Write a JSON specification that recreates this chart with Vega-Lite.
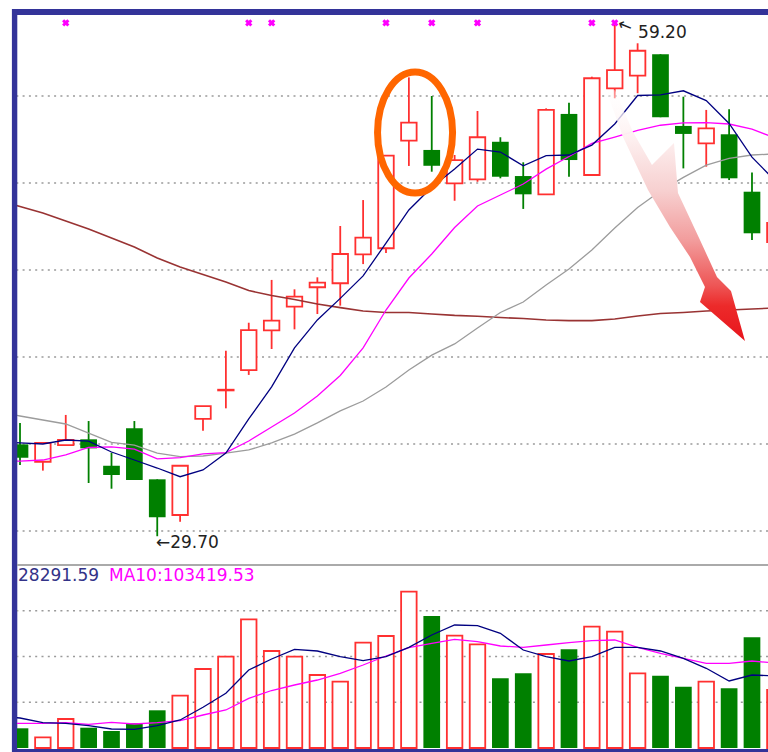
{
  "$schema": "https://vega.github.io/schema/vega-lite/v6.json",
  "width": 751,
  "height": 738,
  "autosize": "none",
  "padding": {"left": 17, "top": 14, "right": 0, "bottom": 0},
  "background": "white",
  "config": {"view": {"stroke": null}, "font": "DejaVu Sans", "scale": {"continuousPadding": 0}},
  "datasets": {
    "candles": [
      {"i":0,"o":34.98,"h":36.21,"l":33.79,"c":34.21,"v":21530},
      {"i":1,"o":33.98,"h":35.10,"l":33.47,"c":35.07,"v":11694},
      {"i":2,"o":34.93,"h":36.67,"l":34.89,"c":35.23,"v":31694},
      {"i":3,"o":35.27,"h":36.32,"l":32.76,"c":34.75,"v":22186},
      {"i":4,"o":33.75,"h":34.50,"l":32.43,"c":33.22,"v":18579},
      {"i":5,"o":35.90,"h":36.32,"l":32.93,"c":32.93,"v":26995},
      {"i":6,"o":32.97,"h":32.97,"l":29.70,"c":30.79,"v":41202},
      {"i":7,"o":30.92,"h":33.75,"l":30.53,"c":33.75,"v":57159},
      {"i":8,"o":36.44,"h":37.18,"l":35.76,"c":37.18,"v":86339},
      {"i":9,"o":38.08,"h":40.36,"l":37.05,"c":38.12,"v":99782},
      {"i":10,"o":39.25,"h":41.97,"l":38.97,"c":41.55,"v":140656},
      {"i":11,"o":41.53,"h":44.43,"l":40.46,"c":42.09,"v":106011},
      {"i":12,"o":42.89,"h":43.89,"l":41.59,"c":43.47,"v":99782},
      {"i":13,"o":44.01,"h":44.58,"l":42.47,"c":44.27,"v":79782},
      {"i":14,"o":44.24,"h":47.53,"l":42.95,"c":45.92,"v":72459},
      {"i":15,"o":45.90,"h":49.02,"l":45.34,"c":46.86,"v":115082},
      {"i":16,"o":46.25,"h":51.57,"l":45.98,"c":51.57,"v":122405},
      {"i":17,"o":52.43,"h":56.07,"l":50.98,"c":53.47,"v":170820},
      {"i":18,"o":51.90,"h":55.00,"l":50.65,"c":50.99,"v":144263},
      {"i":19,"o":49.98,"h":51.61,"l":48.98,"c":51.32,"v":122733},
      {"i":20,"o":50.21,"h":54.14,"l":50.07,"c":52.63,"v":113334},
      {"i":21,"o":52.37,"h":52.63,"l":50.27,"c":50.36,"v":76175},
      {"i":22,"o":50.40,"h":51.19,"l":48.51,"c":49.35,"v":81640},
      {"i":23,"o":49.35,"h":54.29,"l":49.35,"c":54.20,"v":102733},
      {"i":24,"o":53.97,"h":54.61,"l":50.36,"c":51.32,"v":107869},
      {"i":25,"o":50.46,"h":56.11,"l":50.46,"c":56.02,"v":132569},
      {"i":26,"o":55.44,"h":59.20,"l":54.87,"c":56.49,"v":127104},
      {"i":27,"o":56.17,"h":58.03,"l":55.16,"c":57.60,"v":81640},
      {"i":28,"o":57.40,"h":57.40,"l":53.78,"c":53.78,"v":79017},
      {"i":29,"o":53.28,"h":54.96,"l":50.84,"c":52.82,"v":66995},
      {"i":30,"o":52.28,"h":54.20,"l":50.94,"c":53.14,"v":72459},
      {"i":31,"o":52.80,"h":54.24,"l":50.17,"c":50.27,"v":65246},
      {"i":32,"o":49.50,"h":50.61,"l":46.72,"c":47.11,"v":120984},
      {"i":33,"o":46.61,"h":48.16,"l":46.15,"c":47.70,"v":63388}
    ],
    "lines": [
      {"i":-1,"ma5":35.11,"ma10":33.97,"ma30":36.84,"ma60":49.02,"vma5":34972,"vma10":26995},
      {"i":0,"ma5":35.07,"ma10":34.02,"ma30":36.61,"ma60":48.65,"vma5":32787,"vma10":26995},
      {"i":1,"ma5":35.00,"ma10":34.08,"ma30":36.38,"ma60":48.28,"vma5":27650,"vma10":26995},
      {"i":2,"ma5":35.23,"ma10":34.37,"ma30":36.15,"ma60":47.82,"vma5":26995,"vma10":27650},
      {"i":3,"ma5":35.17,"ma10":34.80,"ma30":35.63,"ma60":47.36,"vma5":24372,"vma10":25902},
      {"i":4,"ma5":34.54,"ma10":34.83,"ma30":35.09,"ma60":46.84,"vma5":20765,"vma10":28088},
      {"i":5,"ma5":34.08,"ma10":34.71,"ma30":34.94,"ma60":46.32,"vma5":20437,"vma10":26230},
      {"i":6,"ma5":33.62,"ma10":34.14,"ma30":34.48,"ma60":45.69,"vma5":24372,"vma10":27650},
      {"i":7,"ma5":33.12,"ma10":34.22,"ma30":34.27,"ma60":45.17,"vma5":30601,"vma10":29836},
      {"i":8,"ma5":33.51,"ma10":34.43,"ma30":34.31,"ma60":44.74,"vma5":44481,"vma10":36066},
      {"i":9,"ma5":34.48,"ma10":34.50,"ma30":34.47,"ma60":44.31,"vma5":59782,"vma10":41530},
      {"i":10,"ma5":36.44,"ma10":35.17,"ma30":34.66,"ma60":43.82,"vma5":85246,"vma10":54317},
      {"i":11,"ma5":38.28,"ma10":35.98,"ma30":35.06,"ma60":43.53,"vma5":97268,"vma10":62842},
      {"i":12,"ma5":40.52,"ma10":36.78,"ma30":35.57,"ma60":43.30,"vma5":107869,"vma10":68853},
      {"i":13,"ma5":42.13,"ma10":37.76,"ma30":36.21,"ma60":43.05,"vma5":106011,"vma10":74317},
      {"i":14,"ma5":43.37,"ma10":38.94,"ma30":36.90,"ma60":42.84,"vma5":99782,"vma10":81640},
      {"i":15,"ma5":44.66,"ma10":40.52,"ma30":37.47,"ma60":42.64,"vma5":95410,"vma10":90711},
      {"i":16,"ma5":46.55,"ma10":42.70,"ma30":38.28,"ma60":42.56,"vma5":99782,"vma10":100547},
      {"i":17,"ma5":48.45,"ma10":44.54,"ma30":39.25,"ma60":42.56,"vma5":110055,"vma10":109618},
      {"i":18,"ma5":49.75,"ma10":45.92,"ma30":40.11,"ma60":42.47,"vma5":123498,"vma10":114427},
      {"i":19,"ma5":50.80,"ma10":47.44,"ma30":40.75,"ma60":42.39,"vma5":134427,"vma10":118798},
      {"i":20,"ma5":51.95,"ma10":48.68,"ma30":41.67,"ma60":42.34,"vma5":133662,"vma10":116176},
      {"i":21,"ma5":51.78,"ma10":49.31,"ma30":42.56,"ma60":42.27,"vma5":125356,"vma10":111476},
      {"i":22,"ma5":50.99,"ma10":49.94,"ma30":43.16,"ma60":42.21,"vma5":107104,"vma10":110055},
      {"i":23,"ma5":51.57,"ma10":50.80,"ma30":44.14,"ma60":42.13,"vma5":99782,"vma10":112569},
      {"i":24,"ma5":51.61,"ma10":51.52,"ma30":45.06,"ma60":42.09,"vma5":95082,"vma10":115082},
      {"i":25,"ma5":52.18,"ma10":52.28,"ma30":46.15,"ma60":42.09,"vma5":99782,"vma10":117268},
      {"i":26,"ma5":53.39,"ma10":52.64,"ma30":47.41,"ma60":42.18,"vma5":110055,"vma10":118033},
      {"i":27,"ma5":55.03,"ma10":53.03,"ma30":48.59,"ma60":42.36,"vma5":110055,"vma10":110055},
      {"i":28,"ma5":55.06,"ma10":53.32,"ma30":49.54,"ma60":42.50,"vma5":106011,"vma10":103498},
      {"i":29,"ma5":55.30,"ma10":53.45,"ma30":50.32,"ma60":42.56,"vma5":98033,"vma10":98033},
      {"i":30,"ma5":54.74,"ma10":53.47,"ma30":51.03,"ma60":42.64,"vma5":87104,"vma10":92568},
      {"i":31,"ma5":53.42,"ma10":53.39,"ma30":51.42,"ma60":42.70,"vma5":73224,"vma10":92568},
      {"i":32,"ma5":51.49,"ma10":53.10,"ma30":51.61,"ma60":42.76,"vma5":79782,"vma10":95082},
      {"i":33,"ma5":50.14,"ma10":52.59,"ma30":51.67,"ma60":42.82,"vma5":78689,"vma10":92897}
    ],
    "arrow": [
      {"s":0,"i":25.661,"p":55.230},
      {"s":1,"i":26.361,"p":52.644},
      {"s":2,"i":27.454,"p":49.598},
      {"s":3,"i":28.415,"p":47.471},
      {"s":4,"i":29.290,"p":45.747},
      {"s":5,"i":29.945,"p":44.023},
      {"s":6,"i":29.727,"p":43.161},
      {"s":7,"i":31.694,"p":40.920},
      {"s":8,"i":31.082,"p":43.793},
      {"s":9,"i":30.470,"p":44.598},
      {"s":10,"i":29.727,"p":46.724},
      {"s":11,"i":28.765,"p":49.425},
      {"s":12,"i":28.590,"p":52.299},
      {"s":13,"i":27.628,"p":51.034},
      {"s":14,"i":26.798,"p":52.931},
      {"s":15,"i":26.011,"p":55.345}
    ]
  },
  "layer": [
    {
      "layer": [
        {
          "data": {"values": [{"g":30},{"g":35},{"g":40},{"g":45},{"g":50},{"g":55}]},
          "mark": {"type": "rule", "color": "#9a9a9a", "strokeWidth": 1.3, "strokeDash": [2, 4.3]},
          "encoding": {
            "y": {"field": "g", "type": "quantitative", "scale": {"domain": [28.161, 59.713], "range": [549, 0], "nice": false, "zero": false, "padding": 0}, "axis": null}
          }
        },
        {
          "data": {"name": "candles"},
          "transform": [{"filter": "datum.c >= datum.o"}],
          "mark": {"type": "rule", "color": "#ff3030", "strokeWidth": 1.8, "clip": true},
          "encoding": {
            "x": {"field": "i", "type": "quantitative", "scale": {"domain": [-0.1311, 32.6999], "nice": false, "zero": false, "padding": 0}, "axis": null},
            "y": {"field": "l", "type": "quantitative", "scale": {"domain": [28.161, 59.713], "range": [549, 0], "nice": false, "zero": false, "padding": 0}, "axis": null},
            "y2": {"field": "h"}
          }
        },
        {
          "data": {"name": "candles"},
          "transform": [{"filter": "datum.c >= datum.o"}],
          "mark": {"type": "bar", "width": 15.5, "fill": "white", "stroke": "#ff3030", "strokeWidth": 1.8, "clip": true},
          "encoding": {
            "x": {"field": "i", "type": "quantitative", "scale": {"domain": [-0.1311, 32.6999], "nice": false, "zero": false, "padding": 0}, "axis": null},
            "y": {"field": "o", "type": "quantitative", "scale": {"domain": [28.161, 59.713], "range": [549, 0], "nice": false, "zero": false, "padding": 0}, "axis": null},
            "y2": {"field": "c"}
          }
        },
        {
          "data": {"name": "candles"},
          "transform": [{"filter": "datum.c < datum.o"}],
          "mark": {"type": "rule", "color": "#008000", "strokeWidth": 1.8, "clip": true},
          "encoding": {
            "x": {"field": "i", "type": "quantitative", "scale": {"domain": [-0.1311, 32.6999], "nice": false, "zero": false, "padding": 0}, "axis": null},
            "y": {"field": "l", "type": "quantitative", "scale": {"domain": [28.161, 59.713], "range": [549, 0], "nice": false, "zero": false, "padding": 0}, "axis": null},
            "y2": {"field": "h"}
          }
        },
        {
          "data": {"name": "candles"},
          "transform": [{"filter": "datum.c < datum.o"}],
          "mark": {"type": "bar", "width": 16.7, "color": "#008000", "clip": true},
          "encoding": {
            "x": {"field": "i", "type": "quantitative", "scale": {"domain": [-0.1311, 32.6999], "nice": false, "zero": false, "padding": 0}, "axis": null},
            "y": {"field": "o", "type": "quantitative", "scale": {"domain": [28.161, 59.713], "range": [549, 0], "nice": false, "zero": false, "padding": 0}, "axis": null},
            "y2": {"field": "c"}
          }
        },
        {
          "data": {"name": "lines"},
          "mark": {"type": "line", "color": "#993333", "strokeWidth": 1.6, "clip": true},
          "encoding": {
            "x": {"field": "i", "type": "quantitative", "scale": {"domain": [-0.1311, 32.6999], "nice": false, "zero": false, "padding": 0}, "axis": null},
            "y": {"field": "ma60", "type": "quantitative", "scale": {"domain": [28.161, 59.713], "range": [549, 0], "nice": false, "zero": false, "padding": 0}, "axis": null}
          }
        },
        {
          "data": {"name": "lines"},
          "mark": {"type": "line", "color": "#9c9c9c", "strokeWidth": 1.3, "clip": true},
          "encoding": {
            "x": {"field": "i", "type": "quantitative", "scale": {"domain": [-0.1311, 32.6999], "nice": false, "zero": false, "padding": 0}, "axis": null},
            "y": {"field": "ma30", "type": "quantitative", "scale": {"domain": [28.161, 59.713], "range": [549, 0], "nice": false, "zero": false, "padding": 0}, "axis": null}
          }
        },
        {
          "data": {"name": "lines"},
          "mark": {"type": "line", "color": "#ff00ff", "strokeWidth": 1.3, "clip": true},
          "encoding": {
            "x": {"field": "i", "type": "quantitative", "scale": {"domain": [-0.1311, 32.6999], "nice": false, "zero": false, "padding": 0}, "axis": null},
            "y": {"field": "ma10", "type": "quantitative", "scale": {"domain": [28.161, 59.713], "range": [549, 0], "nice": false, "zero": false, "padding": 0}, "axis": null}
          }
        },
        {
          "data": {"name": "lines"},
          "mark": {"type": "line", "color": "#000080", "strokeWidth": 1.3, "clip": true},
          "encoding": {
            "x": {"field": "i", "type": "quantitative", "scale": {"domain": [-0.1311, 32.6999], "nice": false, "zero": false, "padding": 0}, "axis": null},
            "y": {"field": "ma5", "type": "quantitative", "scale": {"domain": [28.161, 59.713], "range": [549, 0], "nice": false, "zero": false, "padding": 0}, "axis": null}
          }
        },
        {
          "data": {"values": [{"i":2,"p":59.2},{"i":10,"p":59.2},{"i":11,"p":59.2},{"i":16,"p":59.2},{"i":18,"p":59.2},{"i":20,"p":59.2},{"i":25,"p":59.2},{"i":26,"p":59.2}]},
          "mark": {"type": "point", "shape": "cross", "angle": 45, "filled": true, "color": "#ff00ff", "size": 55, "opacity": 1},
          "encoding": {
            "x": {"field": "i", "type": "quantitative", "scale": {"domain": [-0.1311, 32.6999], "nice": false, "zero": false, "padding": 0}, "axis": null},
            "y": {"field": "p", "type": "quantitative", "scale": {"domain": [28.161, 59.713], "range": [549, 0], "nice": false, "zero": false, "padding": 0}, "axis": null}
          }
        },
        {
          "data": {"values": [{"i":5.945,"p":29.33,"t":"←29.70"},{"i":27.02,"p":58.62,"t":"59.20"}]},
          "mark": {"type": "text", "align": "left", "baseline": "middle", "font": "DejaVu Sans", "fontSize": 17, "color": "#222222"},
          "encoding": {
            "x": {"field": "i", "type": "quantitative", "scale": {"domain": [-0.1311, 32.6999], "nice": false, "zero": false, "padding": 0}, "axis": null},
            "y": {"field": "p", "type": "quantitative", "scale": {"domain": [28.161, 59.713], "range": [549, 0], "nice": false, "zero": false, "padding": 0}, "axis": null},
            "text": {"field": "t"}
          }
        },
        {
          "data": {"values": [{"i":26.45,"p":59.02,"t":"←"}]},
          "mark": {"type": "text", "align": "center", "baseline": "middle", "font": "DejaVu Sans", "fontSize": 17, "angle": 22, "color": "#222222"},
          "encoding": {
            "x": {"field": "i", "type": "quantitative", "scale": {"domain": [-0.1311, 32.6999], "nice": false, "zero": false, "padding": 0}, "axis": null},
            "y": {"field": "p", "type": "quantitative", "scale": {"domain": [28.161, 59.713], "range": [549, 0], "nice": false, "zero": false, "padding": 0}, "axis": null},
            "text": {"field": "t"}
          }
        },
        {
          "data": {"values": [{"i":17.27,"p":52.90}]},
          "mark": {"type": "point", "shape": "M0.62,0 C0.62,0.5523 0.3424,1 0,1 C-0.3424,1 -0.62,0.5523 -0.62,0 C-0.62,-0.5523 -0.3424,-1 0,-1 C0.3424,-1 0.62,-0.5523 0.62,0 Z", "size": 14641, "filled": false, "stroke": "#ff6600", "strokeWidth": 7, "opacity": 1},
          "encoding": {
            "x": {"field": "i", "type": "quantitative", "scale": {"domain": [-0.1311, 32.6999], "nice": false, "zero": false, "padding": 0}, "axis": null},
            "y": {"field": "p", "type": "quantitative", "scale": {"domain": [28.161, 59.713], "range": [549, 0], "nice": false, "zero": false, "padding": 0}, "axis": null}
          }
        },
        {
          "data": {"name": "arrow"},
          "mark": {
            "type": "line",
            "stroke": "transparent",
            "strokeWidth": 0,
            "fill": {
              "gradient": "linear", "x1": 0, "y1": 0, "x2": 0, "y2": 1,
              "stops": [
                {"offset": 0, "color": "rgba(255,255,255,0.4)"},
                {"offset": 0.16, "color": "rgba(254,244,244,0.97)"},
                {"offset": 0.4, "color": "#f7d0d0"},
                {"offset": 0.6, "color": "#f29c9c"},
                {"offset": 0.78, "color": "#ee5555"},
                {"offset": 0.86, "color": "#ec2a2a"},
                {"offset": 1, "color": "#e8141c"}
              ]
            }
          },
          "encoding": {
            "x": {"field": "i", "type": "quantitative", "scale": {"domain": [-0.1311, 32.6999], "nice": false, "zero": false, "padding": 0}, "axis": null},
            "y": {"field": "p", "type": "quantitative", "scale": {"domain": [28.161, 59.713], "range": [549, 0], "nice": false, "zero": false, "padding": 0}, "axis": null},
            "order": {"field": "s", "type": "quantitative"}
          }
        },
        {
          "data": {"values": [{}]},
          "mark": {"type": "rule", "color": "#333399", "strokeWidth": 6},
          "encoding": {
            "y": {"datum": 59.828, "type": "quantitative", "scale": {"domain": [28.161, 59.713], "range": [549, 0], "nice": false, "zero": false, "padding": 0}, "axis": null}
          }
        },
        {
          "data": {"values": [{}]},
          "mark": {"type": "rule", "color": "#333399", "strokeWidth": 5.4},
          "encoding": {
            "x": {"datum": -0.236, "type": "quantitative", "scale": {"domain": [-0.1311, 32.6999], "nice": false, "zero": false, "padding": 0}, "axis": null},
            "y": {"datum": 60.0, "type": "quantitative", "scale": {"domain": [28.161, 59.713], "range": [549, 0], "nice": false, "zero": false, "padding": 0}, "axis": null},
            "y2": {"datum": 17.3}
          }
        }
      ]
    },
    {
      "layer": [
        {
          "data": {"values": [{"g":50000},{"g":100000},{"g":150000}]},
          "mark": {"type": "rule", "color": "#9a9a9a", "strokeWidth": 1.3, "strokeDash": [2, 4.3]},
          "encoding": {
            "y": {"field": "g", "type": "quantitative", "scale": {"domain": [0, 200000], "range": [734, 551], "nice": false, "zero": false, "padding": 0}, "axis": null}
          }
        },
        {
          "data": {"name": "candles"},
          "transform": [{"filter": "datum.c >= datum.o"}],
          "mark": {"type": "bar", "width": 15.5, "fill": "white", "stroke": "#ff3030", "strokeWidth": 1.8, "clip": true},
          "encoding": {
            "x": {"field": "i", "type": "quantitative", "scale": {"domain": [-0.1311, 32.6999], "nice": false, "zero": false, "padding": 0}, "axis": null},
            "y": {"field": "v", "type": "quantitative", "scale": {"domain": [0, 200000], "range": [734, 551], "nice": false, "zero": false, "padding": 0}, "axis": null}
          }
        },
        {
          "data": {"name": "candles"},
          "transform": [{"filter": "datum.c < datum.o"}],
          "mark": {"type": "bar", "width": 16.7, "color": "#008000", "clip": true},
          "encoding": {
            "x": {"field": "i", "type": "quantitative", "scale": {"domain": [-0.1311, 32.6999], "nice": false, "zero": false, "padding": 0}, "axis": null},
            "y": {"field": "v", "type": "quantitative", "scale": {"domain": [0, 200000], "range": [734, 551], "nice": false, "zero": false, "padding": 0}, "axis": null}
          }
        },
        {
          "data": {"name": "lines"},
          "mark": {"type": "line", "color": "#ff00ff", "strokeWidth": 1.3, "clip": true},
          "encoding": {
            "x": {"field": "i", "type": "quantitative", "scale": {"domain": [-0.1311, 32.6999], "nice": false, "zero": false, "padding": 0}, "axis": null},
            "y": {"field": "vma10", "type": "quantitative", "scale": {"domain": [0, 200000], "range": [734, 551], "nice": false, "zero": false, "padding": 0}, "axis": null}
          }
        },
        {
          "data": {"name": "lines"},
          "mark": {"type": "line", "color": "#000080", "strokeWidth": 1.3, "clip": true},
          "encoding": {
            "x": {"field": "i", "type": "quantitative", "scale": {"domain": [-0.1311, 32.6999], "nice": false, "zero": false, "padding": 0}, "axis": null},
            "y": {"field": "vma5", "type": "quantitative", "scale": {"domain": [0, 200000], "range": [734, 551], "nice": false, "zero": false, "padding": 0}, "axis": null}
          }
        },
        {
          "data": {"values": [{"i":-0.087,"v":188197,"t":"28291.59"}]},
          "mark": {"type": "text", "align": "left", "baseline": "middle", "font": "DejaVu Sans", "fontSize": 17, "color": "#333388"},
          "encoding": {
            "x": {"field": "i", "type": "quantitative", "scale": {"domain": [-0.1311, 32.6999], "nice": false, "zero": false, "padding": 0}, "axis": null},
            "y": {"field": "v", "type": "quantitative", "scale": {"domain": [0, 200000], "range": [734, 551], "nice": false, "zero": false, "padding": 0}, "axis": null},
            "text": {"field": "t"}
          }
        },
        {
          "data": {"values": [{"i":3.891,"v":188197,"t":"MA10:103419.53"}]},
          "mark": {"type": "text", "align": "left", "baseline": "middle", "font": "DejaVu Sans", "fontSize": 17, "color": "#ff00ff"},
          "encoding": {
            "x": {"field": "i", "type": "quantitative", "scale": {"domain": [-0.1311, 32.6999], "nice": false, "zero": false, "padding": 0}, "axis": null},
            "y": {"field": "v", "type": "quantitative", "scale": {"domain": [0, 200000], "range": [734, 551], "nice": false, "zero": false, "padding": 0}, "axis": null},
            "text": {"field": "t"}
          }
        },
        {
          "data": {"values": [{}]},
          "mark": {"type": "rule", "color": "#aaaaaa", "strokeWidth": 2},
          "encoding": {
            "y": {"datum": 200000, "type": "quantitative", "scale": {"domain": [0, 200000], "range": [734, 551], "nice": false, "zero": false, "padding": 0}, "axis": null}
          }
        },
        {
          "data": {"values": [{}]},
          "mark": {"type": "rule", "color": "#333399", "strokeWidth": 5},
          "encoding": {
            "y": {"datum": -3825, "type": "quantitative", "scale": {"domain": [0, 200000], "range": [734, 551], "nice": false, "zero": false, "padding": 0}, "axis": null}
          }
        }
      ]
    }
  ],
  "resolve": {"scale": {"y": "independent"}}
}
